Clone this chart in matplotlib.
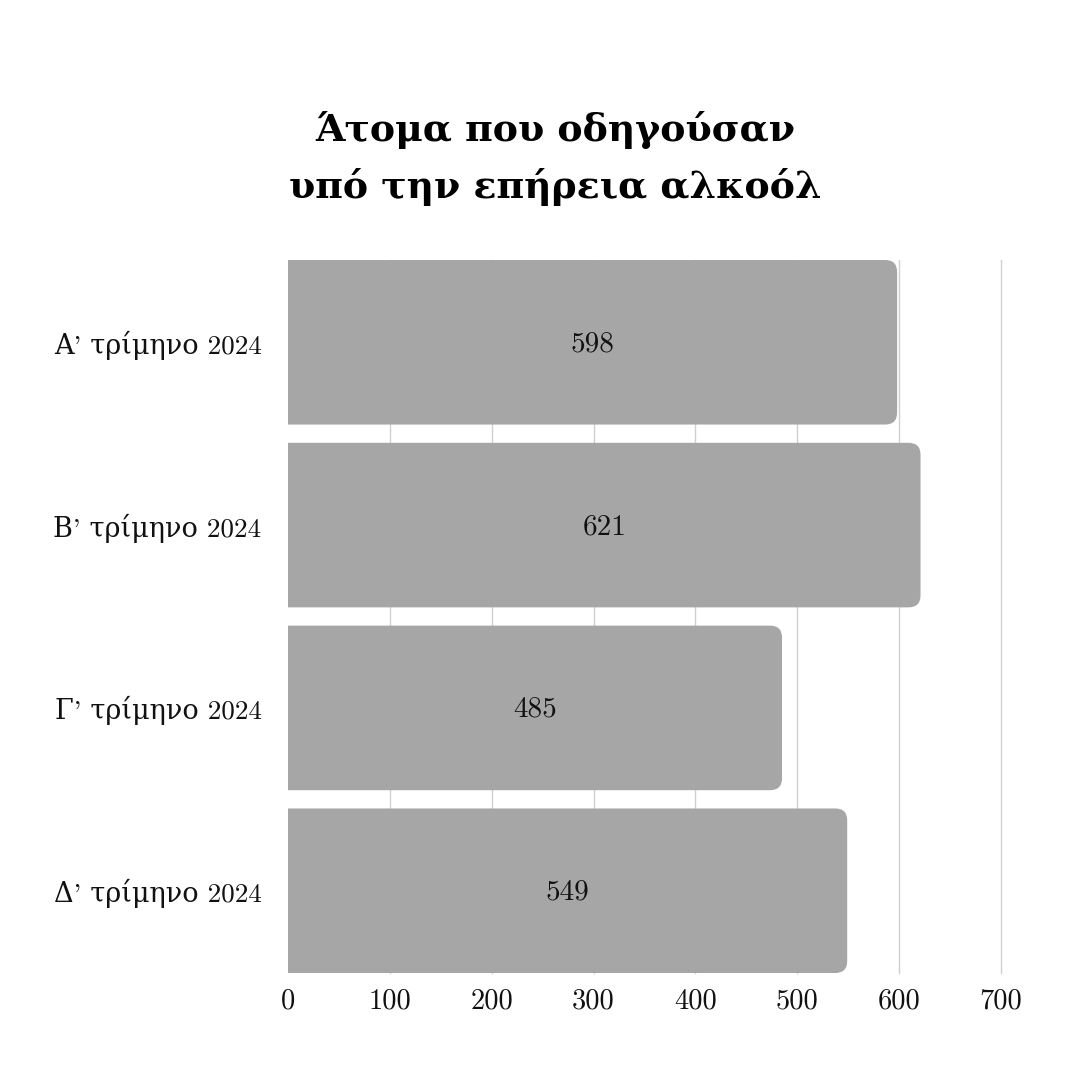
import matplotlib
matplotlib.use("Agg")
import matplotlib.pyplot as plt
from matplotlib.patches import FancyBboxPatch

categories = ["Α' τρίμηνο 2024", "Β' τρίμηνο 2024", "Γ' τρίμηνο 2024", "Δ' τρίμηνο 2024"]
values = [598, 621, 485, 549]
xticks = [0, 100, 200, 300, 400, 500, 600, 700]
title_lines = ["Άτομα που οδηγούσαν", "υπό την επήρεια αλκοόλ"]

plt.rcParams['font.family'] = ['cmr10', 'DejaVu Serif']
plt.rcParams['axes.formatter.use_mathtext'] = True

W, H = 1080, 1080
fig = plt.figure(figsize=(W / 100, H / 100), dpi=100)
ax = fig.add_axes([288 / W, 1 - 973 / H, (1001 - 288) / W, (973 - 260) / H])

bar_color = '#a6a6a6'
bar_h = 0.9
ypos = list(range(len(values)))
bars = ax.barh(ypos, values, height=bar_h, color=bar_color, zorder=2)
ax.set_xlim(0, 700)
ax.set_ylim(3.45, -0.45)

# rounded right corners
px_per_x = (1001 - 288) / 700
px_per_y = (973 - 260) / 3.9
r_px = 12
for b in bars:
    b.set_visible(False)
    x0 = -20
    y0 = b.get_y()
    w = b.get_width() - x0
    h = b.get_height()
    p = FancyBboxPatch((x0, y0), w, h,
                       boxstyle=f"round,pad=0,rounding_size={r_px / px_per_x}",
                       mutation_aspect=(1 / px_per_y) / (1 / px_per_x),
                       facecolor=bar_color, edgecolor='none', zorder=2,
                       clip_on=True)
    ax.add_patch(p)

for y, v in zip(ypos, values):
    ax.text(v / 2, y + 0.01, f"{v}", ha='center', va='center', fontsize=21, color='#111111', zorder=3)

ax.set_yticks(ypos)
ax.set_yticklabels(categories, fontsize=19.5)
ax.set_xticks(xticks)
ax.set_xticklabels([str(t) for t in xticks], fontsize=20.5)
ax.tick_params(axis='both', length=0, colors='#111111')
ax.tick_params(axis='y', pad=19)
ax.tick_params(axis='x', pad=11)
for s in ax.spines.values():
    s.set_visible(False)
ax.grid(axis='x', color='#d0d0d0', linewidth=1, zorder=0)
ax.set_axisbelow(True)
gl = ax.xaxis.get_gridlines()
gl[0].set_visible(False)
for g in gl:
    g.set_clip_on(False)

fig.text(555 / W, 1 - 130 / H, title_lines[0], ha='center', va='center', fontsize=27.3,
         fontweight='bold', family=['DejaVu Serif'])
fig.text(555 / W, 1 - 187 / H, title_lines[1], ha='center', va='center', fontsize=27.3,
         fontweight='bold', family=['DejaVu Serif'])

fig.savefig("out.png", dpi=100, facecolor='white')
